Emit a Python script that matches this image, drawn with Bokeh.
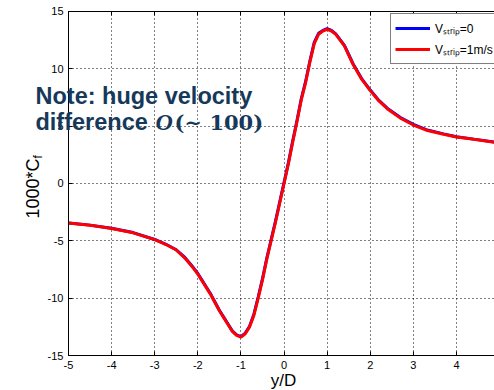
import math
from bokeh.plotting import figure
from bokeh.models import (Range1d, LinearAxis, Label, Legend, LegendItem, FixedTicker,
                          CustomJSTickFormatter, Grid)
from bokeh.embed import file_html
from bokeh.resources import INLINE

# ---- data ----
y_over_d = [-5, -4.5, -4, -3.5, -3, -2.75, -2.5, -2.3, -2.1, -2.0, -1.9, -1.8, -1.7, -1.6,
            -1.5, -1.4, -1.3, -1.2, -1.1, -1.0, -0.9, -0.8, -0.7, -0.6, -0.5, -0.4, -0.3,
            -0.2, -0.1, 0.0, 0.1, 0.2, 0.3, 0.4, 0.5, 0.6, 0.7, 0.8, 0.9, 1.0, 1.1, 1.2,
            1.3, 1.4, 1.5, 1.6, 1.8, 2.0, 2.2, 2.4, 2.7, 3.0, 3.3, 3.7, 4.0, 4.4, 4.88]
cf_vstrip_0 = [-3.45, -3.63, -3.9, -4.28, -4.88, -5.28, -5.78, -6.45, -7.35, -7.85, -8.45,
               -9.05, -9.65, -10.35, -11.05, -11.65, -12.25, -12.85, -13.2, -13.35, -13.05,
               -12.45, -11.4, -9.9, -8.3, -6.5, -4.9, -3.3, -1.6, 0.1, 1.8, 3.7, 5.5, 7.4,
               8.9, 10.7, 12.3, 13.1, 13.35, 13.5, 13.35, 13.05, 12.55, 12.05, 11.25, 10.45,
               9.15, 8.15, 7.25, 6.55, 5.75, 5.15, 4.7, 4.33, 4.08, 3.87, 3.62]
cf_vstrip_1 = [-3.45, -3.65, -3.93, -4.3, -4.9, -5.3, -5.8, -6.5, -7.4, -7.9, -8.5,
               -9.1, -9.7, -10.4, -11.1, -11.7, -12.3, -12.9, -13.25, -13.4, -13.1,
               -12.5, -11.5, -10.0, -8.4, -6.6, -5.0, -3.4, -1.7, 0.0, 1.7, 3.6, 5.4, 7.3,
               8.8, 10.6, 12.2, 13.0, 13.3, 13.45, 13.3, 13.0, 12.5, 12.0, 11.2, 10.4,
               9.1, 8.1, 7.2, 6.5, 5.7, 5.1, 4.65, 4.3, 4.05, 3.85, 3.6]
x_ticks = [-5, -4, -3, -2, -1, 0, 1, 2, 3, 4, 5]
y_ticks = [-15, -10, -5, 0, 5, 10, 15]
legend_labels = ["V\u209b\u209c\u1d63\u1d62\u209a=0", "V\u209b\u209c\u1d63\u1d62\u209a=1m/s"]

FONT = "Liberation Sans"
NAVY = "#16395a"
X0, X1 = -5, 4.88      # visible axes box (right side cut off in the reference)
Y0, Y1 = -15, 15

# frame covers the whole canvas; the axes box sits inside it at fixed locations
p = figure(width=494, height=390, output_backend="svg", toolbar_location=None,
           x_range=Range1d(-6.5774, 4.8817), y_range=Range1d(-18.052, 15.959),
           x_axis_location=None, y_axis_location=None, min_border=0)
p.outline_line_color = None
p.background_fill_color = "white"
p.border_fill_color = "white"
p.xgrid.visible = False
p.ygrid.visible = False

xax = LinearAxis(fixed_location=Y0, bounds=(X0, X1), ticker=FixedTicker(ticks=x_ticks),
                 major_label_overrides={t: str(t) for t in x_ticks})
yax = LinearAxis(fixed_location=X0, bounds=(Y0, Y1), ticker=FixedTicker(ticks=y_ticks),
                 major_label_overrides={t: str(t) for t in y_ticks})
tax = LinearAxis(fixed_location=Y1, bounds=(X0, X1), ticker=FixedTicker(ticks=x_ticks),
                 formatter=CustomJSTickFormatter(code="return ''"))
for ax in (xax, yax, tax):
    ax.major_tick_in = 4
    ax.major_tick_out = 0
    ax.minor_tick_line_color = None
    ax.axis_line_color = "black"
    ax.major_label_text_font = FONT
    ax.major_label_text_font_size = "11px"
    ax.major_label_text_color = "black"
    ax.major_label_standoff = 5
p.add_layout(xax, "below")
p.add_layout(yax, "left")
p.add_layout(tax, "above")

xg = Grid(dimension=0, ticker=FixedTicker(ticks=x_ticks), cross_bounds=(Y0, Y1), bounds=(X0, X1))
yg = Grid(dimension=1, ticker=FixedTicker(ticks=y_ticks), cross_bounds=(X0, X1), bounds=(Y0, Y1))
for g in (xg, yg):
    g.grid_line_color = "black"
    g.grid_line_dash = "1 3"
    g.grid_line_alpha = 1
    p.add_layout(g)

r0 = p.line(y_over_d, cf_vstrip_0, line_color="#0000ff", line_width=3)
r1 = p.line(y_over_d, cf_vstrip_1, line_color="#ff0000", line_width=3)

legend = Legend(items=[LegendItem(label=legend_labels[0], renderers=[r0]),
                       LegendItem(label=legend_labels[1], renderers=[r1])],
                location=(390, 326), border_line_color="black", border_line_width=1,
                background_fill_alpha=1, label_text_font=FONT, label_text_font_size="12px",
                label_text_color="black",
                glyph_width=35, glyph_height=20, label_height=20, padding=4, spacing=1,
                margin=0, label_standoff=5)
p.add_layout(legend, "center")


def add_label(**kw):
    kw.setdefault("text_color", "black")
    p.add_layout(Label(text_baseline="alphabetic", **kw))


# axis labels
add_label(x=-0.013, y=-17.2, text="y/D", text_font=FONT, text_font_size="17px", text_align="center")
add_label(x=-5.835, y=-3.05, text="1000*C", angle=math.pi / 2, text_font=FONT,
          text_font_size="18px", text_align="left")
add_label(x=-5.70, y=2.18, text="f", angle=math.pi / 2, text_font=FONT,
          text_font_size="12px", text_align="left")

# overlay note
add_label(x=-5.766, y=7.67, text="Note: huge velocity", text_font=FONT,
          text_font_style="bold", text_font_size="23.5px", text_color=NAVY)
add_label(x=-5.766, y=5.32, text="difference", text_font=FONT,
          text_font_style="bold", text_font_size="23.5px", text_color=NAVY)
add_label(x=-2.98, y=5.32, text="O", text_font="Liberation Serif",
          text_font_style="bold italic", text_font_size="24px", text_color=NAVY)
add_label(x=-2.54, y=5.32, text="(\u223c 100)", text_font="DejaVu Serif",
          text_font_style="bold", text_font_size="21px", text_color=NAVY)

open("out.html", "w").write(file_html(p, INLINE))
